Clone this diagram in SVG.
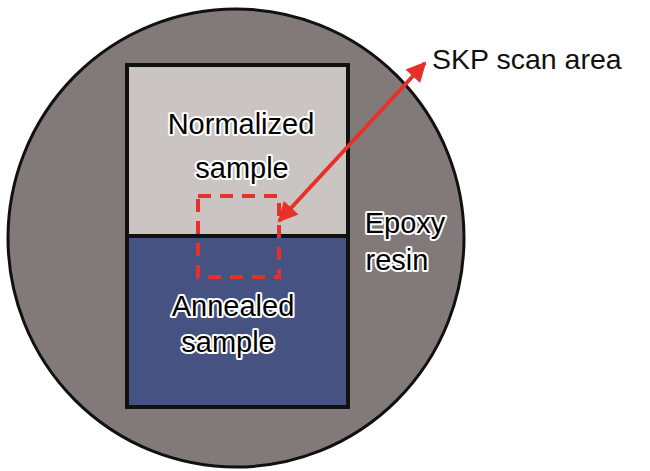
<svg xmlns="http://www.w3.org/2000/svg" width="650" height="471" viewBox="0 0 650 471">
<defs>
<style>
.lbl{font-family:"Liberation Sans",Arial,sans-serif;font-size:29px;fill:#000;text-anchor:middle;stroke:#fff;stroke-width:4px;stroke-linejoin:round;paint-order:stroke}
.plain{font-family:"Liberation Sans",Arial,sans-serif;font-size:28.5px;fill:#111}
.red{stroke:#e8302a;stroke-width:4;fill:none}
</style>
<marker id="ah" viewBox="0 0 10 10" refX="9" refY="5" markerWidth="5.5" markerHeight="5" orient="auto-start-reverse" markerUnits="strokeWidth">
<path d="M0,0 L10,5 L0,10 z" fill="#e8302a"/>
</marker>
</defs>
<rect width="650" height="471" fill="#fff"/>
<g id="epoxy">
<ellipse cx="236" cy="238" rx="228" ry="229" fill="#827a79" stroke="#111" stroke-width="3"/>
<text class="lbl" x="405" y="233">Epoxy</text>
<text class="lbl" x="397" y="270">resin</text>
</g>
<g id="normalized">
<rect x="127" y="65" width="221" height="171" fill="#cac5c2" stroke="#111" stroke-width="4"/>
<text class="lbl" x="241" y="134">Normalized</text>
<text class="lbl" x="242" y="178">sample</text>
</g>
<g id="annealed">
<rect x="127" y="236" width="221" height="171" fill="#465282" stroke="#111" stroke-width="4"/>
<text class="lbl" x="233" y="316">Annealed</text>
<text class="lbl" x="228" y="352">sample</text>
</g>
<g id="scan-area">
<rect x="198" y="196" width="81" height="81" class="red" stroke-dasharray="13,9"/>
</g>
<g id="connectors">
<line x1="279" y1="221" x2="425" y2="63" class="red" marker-start="url(#ah)" marker-end="url(#ah)"/>
</g>
<g id="skp-label">
<text class="plain" x="432" y="69">SKP scan area</text>
</g>
</svg>
